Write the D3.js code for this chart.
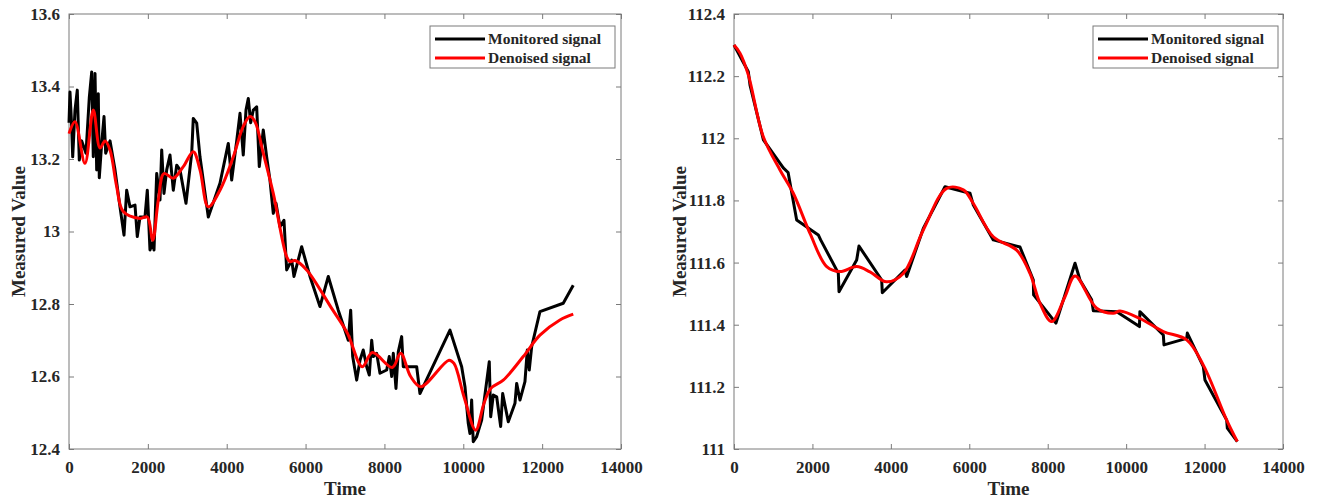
<!DOCTYPE html>
<html><head><meta charset="utf-8">
<script src="https://cdn.jsdelivr.net/npm/d3@7"></script>
<style>body{margin:0;background:#fff}svg text{font-family:"Liberation Serif","Times New Roman",serif;font-weight:bold;fill:#262626}</style>
</head><body><svg id="c" width="1317" height="500"></svg>
<script>
// ---- data ----
const xTicks = [0,2000,4000,6000,8000,10000,12000,14000];
const leftYTicks = [12.4,12.6,12.8,13,13.2,13.4,13.6];
const rightYTicks = [111,111.2,111.4,111.6,111.8,112,112.2,112.4];
const seriesNames = ["Monitored signal","Denoised signal"];
const xLabel = "Time";
const yLabel = "Measured Value";

const leftMonitored = [[0,13.30],[25,13.385],[68,13.29],[94,13.206],[152,13.335],[210,13.39],[261,13.197],[322,13.25],[431,13.216],[515,13.37],[576,13.44],[616,13.206],[660,13.436],[702,13.17],[743,13.38],[768,13.148],[829,13.244],[888,13.317],[931,13.216],[1040,13.25],[1167,13.17],[1293,13.068],[1395,12.99],[1463,13.114],[1547,13.068],[1674,13.073],[1732,12.986],[1801,13.04],[1927,13.04],[1986,13.114],[2054,12.949],[2123,12.97],[2156,12.949],[2224,13.16],[2308,13.087],[2351,13.225],[2409,13.105],[2478,13.17],[2561,13.211],[2645,13.114],[2732,13.183],[2815,13.17],[2967,13.078],[3112,13.216],[3152,13.312],[3239,13.299],[3322,13.206],[3533,13.04],[3829,13.133],[4040,13.243],[4126,13.142],[4253,13.25],[4337,13.326],[4420,13.211],[4489,13.335],[4547,13.367],[4608,13.30],[4674,13.335],[4760,13.344],[4826,13.179],[4927,13.28],[5013,13.206],[5097,13.142],[5181,13.05],[5250,13.078],[5351,13.013],[5452,13.031],[5521,12.894],[5648,12.921],[5706,12.876],[5901,12.958],[6112,12.876],[6365,12.793],[6576,12.876],[6829,12.783],[7083,12.70],[7144,12.783],[7195,12.655],[7296,12.59],[7380,12.645],[7463,12.673],[7550,12.627],[7616,12.604],[7677,12.70],[7717,12.655],[7803,12.664],[7887,12.609],[8057,12.618],[8123,12.655],[8184,12.60],[8225,12.664],[8293,12.567],[8351,12.668],[8437,12.71],[8478,12.627],[8818,12.627],[8901,12.553],[9662,12.728],[9959,12.627],[10043,12.572],[10126,12.471],[10169,12.443],[10212,12.535],[10253,12.42],[10339,12.434],[10466,12.48],[10659,12.641],[10695,12.489],[10761,12.549],[10847,12.544],[10948,12.462],[10999,12.553],[11141,12.475],[11311,12.526],[11354,12.581],[11437,12.535],[11564,12.586],[11623,12.673],[11673,12.618],[11734,12.682],[11944,12.779],[12535,12.802],[12789,12.852]];
const leftDenoised = [[0,13.27],[152,13.303],[405,13.188],[616,13.335],[786,13.23],[913,13.25],[1040,13.225],[1209,13.124],[1376,13.055],[1801,13.036],[1986,13.04],[2123,12.976],[2265,13.087],[2409,13.16],[2645,13.147],[2899,13.179],[3152,13.22],[3322,13.17],[3533,13.068],[3829,13.114],[4167,13.206],[4420,13.29],[4590,13.317],[4717,13.303],[4927,13.216],[5181,13.105],[5521,12.93],[5604,12.917],[5732,12.92],[6028,12.894],[6650,12.79],[7058,12.72],[7439,12.627],[7693,12.666],[8200,12.625],[8411,12.664],[8665,12.6],[8919,12.572],[9637,12.645],[9764,12.636],[10018,12.544],[10314,12.452],[10525,12.526],[10695,12.567],[11014,12.59],[11521,12.655],[11944,12.714],[12451,12.756],[12789,12.772]];

const rightMonitored = [[0,112.30],[365,112.214],[410,112.17],[750,111.995],[1257,111.905],[1380,111.89],[1598,111.737],[2150,111.689],[2210,111.673],[2660,111.566],[2678,111.506],[3128,111.608],[3187,111.653],[3766,111.544],[3782,111.503],[4360,111.576],[4404,111.555],[4827,111.71],[5380,111.844],[6018,111.823],[6103,111.785],[6612,111.673],[7293,111.65],[7633,111.544],[7640,111.496],[8210,111.405],[8696,111.598],[8823,111.544],[9121,111.48],[9163,111.445],[9759,111.442],[10340,111.394],[10350,111.442],[10948,111.367],[10965,111.335],[11544,111.356],[11560,111.373],[11968,111.265],[12010,111.222],[12564,111.093],[12580,111.067],[12835,111.024]];
const rightDenoised = [[0,112.30],[153,112.274],[365,112.204],[747,112.005],[1173,111.898],[1512,111.823],[1938,111.694],[2364,111.587],[2703,111.571],[3128,111.587],[3468,111.57],[3893,111.538],[4317,111.565],[4827,111.705],[5423,111.839],[5848,111.834],[6103,111.79],[6612,111.683],[7208,111.64],[7548,111.565],[7803,111.469],[8101,111.41],[8440,111.49],[8696,111.557],[9249,111.453],[9673,111.437],[9843,111.444],[10353,111.42],[10948,111.378],[11544,111.351],[11968,111.27],[12564,111.093],[12835,111.024]];

// ---- drawing ----
const svg = d3.select("#c");
const axisColor = "#7a7a7a";

function panel(opts){
  const {x0,x1,y0,y1,yDomain,yTicks,mon,den,yFmt,yLabelX,legend} = opts;
  const x = d3.scaleLinear().domain([0,14000]).range([x0,x1]);
  const y = d3.scaleLinear().domain(yDomain).range([y1,y0]);
  const g = svg.append("g");
  g.append("rect").attr("x",x0).attr("y",y0).attr("width",x1-x0).attr("height",y1-y0)
    .attr("fill","none").attr("stroke",axisColor).attr("stroke-width",1);
  const tl = 5;
  const xb = g.append("g").attr("transform",`translate(0,${y1})`)
    .call(d3.axisBottom(x).tickValues(xTicks).tickSize(-tl).tickPadding(12).tickFormat(d3.format("d")));
  const xt = g.append("g").attr("transform",`translate(0,${y0})`)
    .call(d3.axisTop(x).tickValues(xTicks).tickSize(-tl).tickFormat(""));
  const yl = g.append("g").attr("transform",`translate(${x0},0)`)
    .call(d3.axisLeft(y).tickValues(yTicks).tickSize(-tl).tickPadding(9).tickFormat(yFmt));
  const yr = g.append("g").attr("transform",`translate(${x1},0)`)
    .call(d3.axisRight(y).tickValues(yTicks).tickSize(-tl).tickFormat(""));
  [xb,xt,yl,yr].forEach(a=>{
    a.select(".domain").remove();
    a.selectAll("line").attr("stroke",axisColor);
    a.selectAll("text").style("font-size","17px").attr("fill","#262626");
  });
  const lineM = d3.line().x(d=>x(d[0])).y(d=>y(d[1]));
  const lineD = d3.line().x(d=>x(d[0])).y(d=>y(d[1])).curve(d3.curveCatmullRom.alpha(0.5));
  g.append("path").datum(mon).attr("d",lineM).attr("fill","none").attr("stroke","#000").attr("stroke-width",3).attr("stroke-linejoin","round");
  g.append("path").datum(den).attr("d",lineD).attr("fill","none").attr("stroke","#f00").attr("stroke-width",3).attr("stroke-linejoin","round");
  g.append("text").attr("x",(x0+x1)/2).attr("y",495).attr("text-anchor","middle").style("font-size","19px").text(xLabel);
  g.append("text").attr("transform",`translate(${yLabelX},${(y0+y1)/2}) rotate(-90)`).attr("text-anchor","middle").style("font-size","19px").text(yLabel);
  const lg = g.append("g");
  lg.append("rect").attr("x",legend.x).attr("y",legend.y).attr("width",legend.w).attr("height",legend.h)
    .attr("fill","#fff").attr("stroke",axisColor).attr("stroke-width",1);
  const cols = ["#000","#f00"];
  seriesNames.forEach((n,i)=>{
    const cy = legend.y + 13 + i*19;
    lg.append("line").attr("x1",legend.x+5).attr("x2",legend.x+55).attr("y1",cy).attr("y2",cy).attr("stroke",cols[i]).attr("stroke-width",3);
    lg.append("text").attr("x",legend.x+58).attr("y",cy+5).style("font-size","15.5px").text(n);
  });
}

panel({x0:69,x1:621,y0:14,y1:449,yDomain:[12.4,13.6],yTicks:leftYTicks,mon:leftMonitored,den:leftDenoised,
  yFmt:d=>d3.format("")(+d.toFixed(1)),yLabelX:25,legend:{x:430,y:26,w:185,h:42}});
panel({x0:734,x1:1283,y0:14,y1:449,yDomain:[111,112.4],yTicks:rightYTicks,mon:rightMonitored,den:rightDenoised,
  yFmt:d=>d3.format("")(+d.toFixed(1)),yLabelX:686,legend:{x:1093,y:26,w:185,h:42}});
</script></body></html>
